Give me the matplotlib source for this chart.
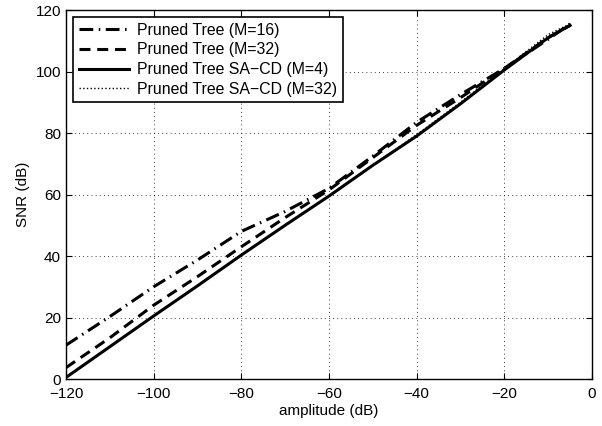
import matplotlib
matplotlib.use("Agg")
import matplotlib.pyplot as plt

plt.rcParams['font.family'] = ['Liberation Sans', 'DejaVu Sans']

amplitude = [-120, -110, -100, -90, -80, -70, -60, -50, -40, -30, -20, -10, -5]
snr_pt16 = [11, 20.3, 30, 38.7, 48, 54.5, 62, 72.5, 83.5, 92.5, 101, 110.5, 115.5]
snr_pt32 = [3.7, 13.4, 24, 33.3, 43, 52.5, 61.5, 72, 82.5, 91.5, 101, 111, 115]
snr_sacd4 = [0.5, 10.5, 20.5, 30.3, 40.3, 50, 59.5, 69.5, 79, 89.5, 100.5, 111, 115]
snr_sacd32 = [0.5, 10.5, 20.5, 30.3, 40.3, 50, 59.5, 69.5, 79.5, 90, 101, 112, 115.5]
labels = ['Pruned Tree (M=16)', 'Pruned Tree (M=32)',
          'Pruned Tree SA\u2212CD (M=4)', 'Pruned Tree SA\u2212CD (M=32)']

fig = plt.figure(figsize=(6.02, 4.26), dpi=100)
ax = fig.add_axes([0.1096, 0.1103, 0.8738, 0.8662])

ax.plot(amplitude, snr_pt16, color='black', lw=2.2, dashes=[4.5, 1.8, 0.5, 1.8], label=labels[0])
ax.plot(amplitude, snr_pt32, color='black', lw=2.2, dashes=[3.6, 2.2], label=labels[1])
ax.plot(amplitude, snr_sacd4, color='black', lw=2.2, linestyle='-', label=labels[2])
ax.plot(amplitude, snr_sacd32, color='black', lw=1.0, linestyle=':', label=labels[3])

ax.set_xlim(-120, 0)
ax.set_ylim(0, 120)
ax.set_xticks(range(-120, 1, 20))
ax.set_yticks(range(0, 121, 20))
ax.set_xticklabels([str(v).replace('-', '\u2212') for v in range(-120, 1, 20)])
ax.grid(True, color='black', linestyle=(0, (1, 4)), linewidth=0.6)
ax.tick_params(direction='in', top=True, right=True, labelsize=11, length=4, width=0.8)
ax.tick_params(axis='x', pad=6)
for s in ax.spines.values():
    s.set_linewidth(1.0)
ax.set_xlabel('amplitude (dB)', fontsize=11, labelpad=2)
ax.set_ylabel('SNR (dB)', fontsize=11, labelpad=4)

leg = ax.legend(loc='upper left', fontsize=11.4, frameon=True, fancybox=False,
                edgecolor='black', framealpha=1, handlelength=3.2,
                borderaxespad=0.45, labelspacing=0.3, borderpad=0.35, handletextpad=0.5)
leg.get_frame().set_linewidth(1.2)

fig.savefig('out.png', dpi=100)
